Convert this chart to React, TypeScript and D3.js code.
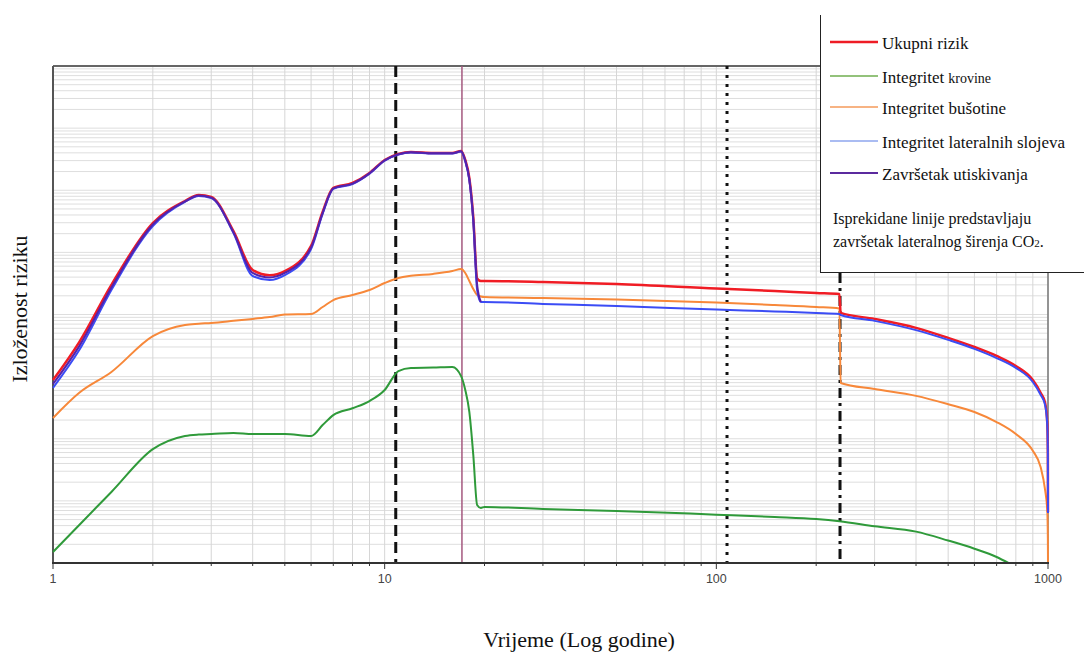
import React from 'react';
import * as d3 from 'd3';

// ---- data (time in years, exposure to risk on a log scale) ----
const tMain = [1, 1.2, 1.5, 2, 2.5, 2.75, 3, 3.5, 4, 4.5, 5, 6, 6.5, 7, 8, 9, 10, 11, 12, 14, 16, 17, 17.5, 18, 18.5, 19, 19.5, 20, 30, 50, 100, 150, 200, 235, 237, 300, 400, 500, 600, 700, 800, 900, 950, 980, 995, 999, 1000];

const ukupniRizik = [8.8e-6, 3.6e-5, 3.0e-4, 2.97e-3, 6.7e-3, 8.4e-3, 7.8e-3, 2.2e-3, 5.2e-4, 4.3e-4, 5.0e-4, 1.27e-3, 4.47e-3, 1.09e-2, 1.31e-2, 1.9e-2, 3.07e-2, 3.83e-2, 4.13e-2, 3.98e-2, 3.98e-2, 4.28e-2, 3.07e-2, 1.58e-2, 3.71e-3, 3.8e-4, 3.46e-4, 3.46e-4, 3.34e-4, 3.10e-4, 2.62e-4, 2.39e-4, 2.22e-4, 2.14e-4, 1.06e-4, 8.5e-5, 6.1e-5, 4.2e-5, 3.0e-5, 2.15e-5, 1.48e-5, 8.8e-6, 5.5e-6, 3.8e-6, 1.8e-6, 5.9e-7, 6.6e-8];

const lateralniSlojevi = [6.6e-6, 2.68e-5, 2.48e-4, 2.66e-3, 6.5e-3, 8.1e-3, 7.5e-3, 2.05e-3, 4.17e-4, 3.59e-4, 4.3e-4, 1.13e-3, 4.15e-3, 1.05e-2, 1.26e-2, 1.85e-2, 3.0e-2, 3.75e-2, 4.05e-2, 3.9e-2, 3.9e-2, 4.2e-2, 2.9e-2, 1.45e-2, 3.2e-3, 2.48e-4, 1.59e-4, 1.59e-4, 1.48e-4, 1.37e-4, 1.20e-4, 1.12e-4, 1.06e-4, 1.02e-4, 9.8e-5, 7.9e-5, 5.6e-5, 3.9e-5, 2.8e-5, 1.99e-5, 1.38e-5, 8.2e-6, 5.1e-6, 3.5e-6, 1.66e-6, 5.5e-7, 6.4e-8];

const busotina = [2.16e-6, 5.5e-6, 1.19e-5, 4.5e-5, 6.8e-5, 7.1e-5, 7.3e-5, 7.9e-5, 8.5e-5, 9.1e-5, 1.0e-4, 1.02e-4, 1.32e-4, 1.71e-4, 2.06e-4, 2.48e-4, 3.21e-4, 3.87e-4, 4.2e-4, 4.5e-4, 5.0e-4, 5.4e-4, 4.66e-4, 3.46e-4, 2.57e-4, 2.06e-4, 1.95e-4, 1.91e-4, 1.84e-4, 1.74e-4, 1.56e-4, 1.42e-4, 1.32e-4, 1.25e-4, 7.9e-6, 6.3e-6, 4.9e-6, 3.6e-6, 2.7e-6, 1.86e-6, 1.19e-6, 6.4e-7, 3.5e-7, 1.5e-7, 7.1e-8, 2.5e-8, 1.0e-8];

const tKrovina = [1, 1.2, 1.5, 2, 2.5, 2.75, 3, 3.5, 4, 4.5, 5, 6, 6.5, 7, 8, 9, 10, 11, 12, 14, 16, 17, 17.5, 18, 18.5, 19, 19.5, 20, 30, 50, 100, 150, 200, 235, 300, 400, 500, 600, 700, 760];
const krovina = [1.5e-8, 4.1e-8, 1.39e-7, 6.8e-7, 1.11e-6, 1.17e-6, 1.19e-6, 1.24e-6, 1.19e-6, 1.19e-6, 1.19e-6, 1.11e-6, 1.66e-6, 2.4e-6, 3.1e-6, 4.05e-6, 6.1e-6, 1.23e-5, 1.38e-5, 1.40e-5, 1.43e-5, 1.02e-5, 6.1e-6, 2.7e-6, 5.5e-7, 8.6e-8, 7.7e-8, 8.0e-8, 7.4e-8, 6.9e-8, 6.0e-8, 5.5e-8, 5.1e-8, 4.7e-8, 3.9e-8, 3.2e-8, 2.3e-8, 1.7e-8, 1.25e-8, 1.0e-8];

const tUtiskivanje = [1, 1.2, 1.5, 2, 2.5, 2.75, 3, 3.5, 4, 4.5, 5, 6, 6.5, 7, 8, 9, 10, 11, 12, 14, 16, 17, 17.5, 18, 18.5, 19, 19.5];
const utiskivanje = [7.6e-6, 3.1e-5, 2.72e-4, 2.81e-3, 6.6e-3, 8.2e-3, 7.6e-3, 2.1e-3, 4.66e-4, 3.94e-4, 4.66e-4, 1.2e-3, 4.3e-3, 1.07e-2, 1.28e-2, 1.87e-2, 3.03e-2, 3.8e-2, 4.1e-2, 3.95e-2, 3.95e-2, 4.25e-2, 3.0e-2, 1.5e-2, 3.4e-3, 3.0e-4, 1.59e-4];

// reference vertical lines (years)
const tDashed = 10.8;
const tInjectionEnd = 17.1;
const tDotted = 107.7;
const tDashDot = 236;

const xTickValues = [1, 10, 100, 1000];
const xTickLabels = ['1', '10', '100', '1000'];

const legendItems = [
  { label: 'Ukupni rizik', color: '#ee1c25', w: 2.5 },
  { label: 'Integritet', small: 'krovine', color: '#6fae4f', w: 1.5 },
  { label: 'Integritet bušotine', color: '#f49a5a', w: 1.5 },
  { label: 'Integritet lateralnih slojeva', color: '#8ea6ee', w: 1.5 },
  { label: 'Završetak utiskivanja', color: '#5b2a9e', w: 2 },
];
const legendNote1 = 'Isprekidane linije predstavljaju';
const legendNote2 = 'završetak lateralnog širenja CO';

const W = 1084;
const H = 655;
const L = 53, R = 1048, T = 66, B = 563;

export default function App() {
  const x = d3.scaleLog().domain([1, 1000]).range([L, R]);
  const y = d3.scaleLog().domain([1e-8, 1]).range([B, T]).clamp(true);

  const mk = (ts: number[], vs: number[]) =>
    d3.line<number>().x((_, i) => x(ts[i])).y((v) => y(v)).curve(d3.curveMonotoneX)(vs) || '';

  const hGrid: number[] = [];
  for (let n = -8; n < 0; n++) for (let k = 1; k <= 9; k++) hGrid.push(k * Math.pow(10, n));
  hGrid.push(1);
  const vGrid: number[] = [];
  for (let n = 0; n < 3; n++) for (let k = 1; k <= 9; k++) vGrid.push(k * Math.pow(10, n));
  vGrid.push(1000);

  const serif = '"Liberation Serif", "Times New Roman", serif';
  const sans = '"Liberation Sans", Arial, sans-serif';

  return (
    <svg width={W} height={H} style={{ position: 'absolute', left: 0, top: 0, background: '#fff' }}>
      <rect x={0} y={0} width={W} height={H} fill="#fff" />
      {/* grid */}
      {hGrid.map((v, i) => (
        <line key={'h' + i} x1={L} x2={R} y1={y(v)} y2={y(v)} stroke="#dedede" strokeWidth={1} />
      ))}
      {vGrid.map((v, i) => (
        <line key={'v' + i} x1={x(v)} x2={x(v)} y1={T} y2={B} stroke="#d6d6d6" strokeWidth={1} />
      ))}
      {/* frame */}
      <line x1={L} x2={R} y1={T} y2={T} stroke="#666" strokeWidth={2} />
      <line x1={R} x2={R} y1={T} y2={B} stroke="#777" strokeWidth={1.5} />
      <line x1={L} x2={L} y1={T} y2={B} stroke="#555" strokeWidth={2} />

      {/* reference lines */}
      <line x1={x(tDashed)} x2={x(tDashed)} y1={T} y2={B} stroke="#111" strokeWidth={3} strokeDasharray="11,6" />
      <line x1={x(tInjectionEnd)} x2={x(tInjectionEnd)} y1={T} y2={B} stroke="#a4587f" strokeWidth={1.5} />
      <line x1={x(tDotted)} x2={x(tDotted)} y1={T} y2={B} stroke="#111" strokeWidth={3} strokeDasharray="3,6" />
      <line x1={x(tDashDot)} x2={x(tDashDot)} y1={T} y2={B} stroke="#111" strokeWidth={3} strokeDasharray="10,5,3,5" />

      {/* series */}
      <path d={mk(tKrovina, krovina)} fill="none" stroke="#2f9a3a" strokeWidth={2} />
      <path d={mk(tMain, busotina)} fill="none" stroke="#f7883a" strokeWidth={2} />
      <path d={mk(tMain, ukupniRizik)} fill="none" stroke="#f01c24" strokeWidth={2.5} />
      <path d={mk(tMain, lateralniSlojevi)} fill="none" stroke="#3b4cf5" strokeWidth={2} />
      <path d={mk(tUtiskivanje, utiskivanje)} fill="none" stroke="#5522aa" strokeWidth={2} />

      {/* x axis */}
      <line x1={L - 1} x2={R + 1} y1={B} y2={B} stroke="#333" strokeWidth={2} />
      {vGrid.map((v, i) => (
        <line key={'t' + i} x1={x(v)} x2={x(v)} y1={B} y2={B + (xTickValues.includes(v) ? 6 : 3)} stroke="#333" strokeWidth={1} />
      ))}
      {xTickValues.map((v, i) => (
        <text key={'l' + i} x={x(v)} y={583} textAnchor="middle" fontFamily={sans} fontSize={12.5} fill="#444">
          {xTickLabels[i]}
        </text>
      ))}
      <text x={579} y={647} textAnchor="middle" fontFamily={serif} fontSize={22} fill="#111">
        Vrijeme (Log godine)
      </text>
      <text transform="translate(27,309) rotate(-90)" textAnchor="middle" fontFamily={serif} fontSize={22} fill="#111">
        Izloženost riziku
      </text>

      {/* legend */}
      <rect x={820} y={15} width={W - 820} height={257} fill="#fff" />
      <line x1={820.5} x2={820.5} y1={15} y2={272.5} stroke="#222" strokeWidth={1} />
      <line x1={820} x2={W} y1={272.5} y2={272.5} stroke="#222" strokeWidth={1} />
      {legendItems.map((it, i) => {
        const by = [49, 83, 114, 148, 180][i];
        return (
          <g key={'lg' + i}>
            <line x1={830} x2={878} y1={by - 7} y2={by - 7} stroke={it.color} strokeWidth={it.w} />
            <text x={882} y={by} fontFamily={serif} fontSize={17} fill="#111">
              {it.label}
              {it.small ? <tspan fontSize={14} dx={4}>{it.small}</tspan> : null}
            </text>
          </g>
        );
      })}
      <text x={833} y={224} fontFamily={serif} fontSize={16} fill="#111">{legendNote1}</text>
      <text x={833} y={247} fontFamily={serif} fontSize={16} fill="#111">
        {legendNote2}
        <tspan fontSize={11}>2</tspan>
        <tspan>.</tspan>
      </text>
    </svg>
  );
}
